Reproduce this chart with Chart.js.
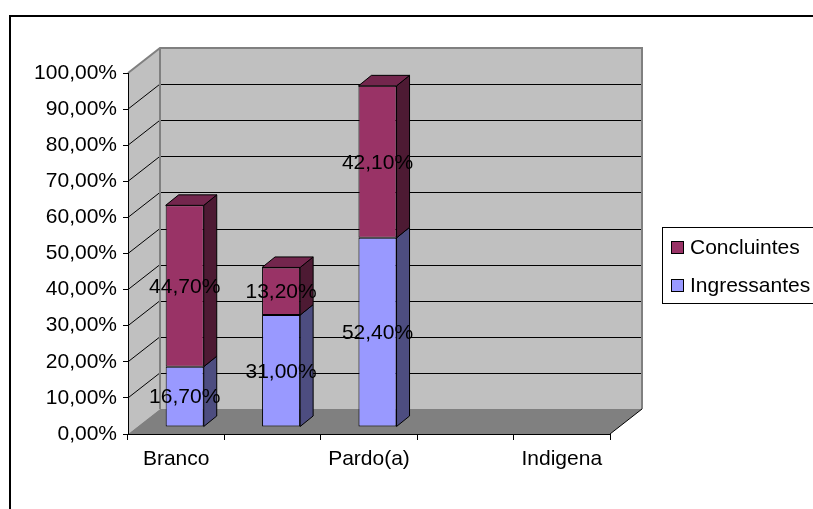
<!DOCTYPE html>
<html>
<head>
<meta charset="utf-8">
<script src="https://cdn.jsdelivr.net/npm/chart.js@4/dist/chart.umd.min.js"></script>
<style>
html,body{margin:0;padding:0;background:#fff;}
canvas{display:block;}
</style>
</head>
<body>
<canvas id="c" width="813" height="509"></canvas>
<script>
// ---- data ----
const categories = ["Branco", "", "Pardo(a)", "", "Indigena"];
const ingressantes = [16.7, 31.0, 52.4, null, null];
const concluintes = [44.7, 13.2, 42.1, null, null];
const seriesNames = ["Ingressantes", "Concluintes"];
const yTicks = [0, 10, 20, 30, 40, 50, 60, 70, 80, 90, 100];

// ---- style ----
const FONT = "'Liberation Sans', Arial, sans-serif";
const FS = 21;
const WALL_DX = 32, WALL_DY = -25;     // depth of the whole 3D box
const BAR_OX = 8.5, BAR_OY = -7;       // bar front face position inside the depth
const BAR_DX = 13, BAR_DY = -10.5;     // bar depth
const faceColors = ["#9999FF", "#993366"];
const sideColors = ["#4D4D80", "#4D1A33"];
const topColors  = ["#7373BF", "#73264D"];

const fmt = v => v.toFixed(2).replace('.', ',') + '%';

function poly(ctx, pts, fill, stroke, lw) {
  ctx.beginPath();
  ctx.moveTo(pts[0][0], pts[0][1]);
  for (let i = 1; i < pts.length; i++) ctx.lineTo(pts[i][0], pts[i][1]);
  ctx.closePath();
  if (fill) { ctx.fillStyle = fill; ctx.fill(); }
  if (stroke) { ctx.strokeStyle = stroke; ctx.lineWidth = lw || 1; ctx.stroke(); }
}

const walls = {
  id: 'walls',
  beforeDraw(chart) {
    const ctx = chart.ctx;
    const {left, right} = chart.chartArea;
    const ys = chart.scales.y;
    const y0 = ys.getPixelForValue(0), y100 = ys.getPixelForValue(100);
    const dx = WALL_DX, dy = WALL_DY;
    ctx.save();
    // outer frame
    ctx.strokeStyle = '#000'; ctx.lineWidth = 2;
    ctx.strokeRect(10, 16, 830, 530);
    // back wall
    ctx.fillStyle = '#C0C0C0';
    ctx.fillRect(left + dx, y100 + dy, right - left, y0 - y100);
    // side wall
    poly(ctx, [[left, y0], [left, y100], [left + dx, y100 + dy], [left + dx, y0 + dy]], '#C0C0C0');
    // floor
    poly(ctx, [[left, y0], [right, y0], [right + dx, y0 + dy], [left + dx, y0 + dy]], '#808080');
    // gridlines
    ctx.strokeStyle = '#000'; ctx.lineWidth = 1;
    yTicks.forEach(v => {
      if (v === 0 || v === 100) return;
      const y = Math.round(ys.getPixelForValue(v) + dy) + 0.5;
      ctx.beginPath();
      ctx.moveTo(left + dx, y); ctx.lineTo(right + dx, y);
      ctx.stroke();
      const yf = ys.getPixelForValue(v);
      ctx.beginPath();
      ctx.moveTo(left, yf); ctx.lineTo(left + dx, yf + dy);
      ctx.stroke();
    });
    // wall edges (gray)
    ctx.strokeStyle = '#808080'; ctx.lineWidth = 2;
    ctx.beginPath();
    ctx.moveTo(left, y100); ctx.lineTo(left + dx, y100 + dy);
    ctx.lineTo(right + dx, y100 + dy); ctx.lineTo(right + dx, y0 + dy);
    ctx.moveTo(left + dx, y100 + dy); ctx.lineTo(left + dx, y0 + dy);
    ctx.stroke();
    // floor right edge
    ctx.strokeStyle = '#000'; ctx.lineWidth = 1;
    ctx.beginPath();
    ctx.moveTo(right, y0); ctx.lineTo(right + dx, y0 + dy);
    ctx.stroke();
    ctx.restore();
  },
  beforeDatasetsDraw(chart) {
    chart.ctx.save();
    chart.ctx.translate(BAR_OX, BAR_OY);
  },
  afterDatasetsDraw(chart) {
    const ctx = chart.ctx;
    ctx.restore();
    ctx.save();
    const dsets = chart.data.datasets;
    dsets.forEach((ds, di) => {
      const meta = chart.getDatasetMeta(di);
      meta.data.forEach((bar, i) => {
        const v = ds.data[i];
        if (v == null) return;
        const p = bar.getProps(['x', 'y', 'base', 'width'], true);
        const xl = p.x - p.width / 2 + BAR_OX, xr = p.x + p.width / 2 + BAR_OX;
        const yt = p.y + BAR_OY, yb = p.base + BAR_OY;
        poly(ctx, [[xr, yt], [xr + BAR_DX, yt + BAR_DY], [xr + BAR_DX, yb + BAR_DY], [xr, yb]], sideColors[di], '#000', 1);
        let topmost = true;
        for (let k = di + 1; k < dsets.length; k++) if (dsets[k].data[i]) topmost = false;
        if (topmost) {
          poly(ctx, [[xl, yt], [xl + BAR_DX, yt + BAR_DY], [xr + BAR_DX, yt + BAR_DY], [xr, yt]], topColors[di], '#000', 1);
        }
      });
    });
    // data labels
    ctx.fillStyle = '#000';
    ctx.font = FS + 'px ' + FONT;
    ctx.textAlign = 'center';
    ctx.textBaseline = 'middle';
    dsets.forEach((ds, di) => {
      const meta = chart.getDatasetMeta(di);
      meta.data.forEach((bar, i) => {
        const v = ds.data[i];
        if (v == null) return;
        const p = bar.getProps(['x', 'y', 'base'], true);
        ctx.fillText(fmt(v), p.x + BAR_OX, (p.y + p.base) / 2 + BAR_OY + 1);
      });
    });
    ctx.restore();
  },
  afterDraw(chart) {
    const ctx = chart.ctx;
    ctx.save();
    // legend
    ctx.fillStyle = '#fff';
    ctx.fillRect(662.5, 227.5, 200, 76);
    ctx.strokeStyle = '#000'; ctx.lineWidth = 1;
    ctx.strokeRect(662.5, 227.5, 200, 76);
    ctx.font = FS + 'px ' + FONT;
    ctx.textAlign = 'left';
    ctx.textBaseline = 'middle';
    const order = [1, 0];
    order.forEach((di, k) => {
      const cy = 248 + k * 38;
      ctx.fillStyle = faceColors[di];
      ctx.fillRect(671.5, cy - 6.5, 12, 12);
      ctx.strokeStyle = '#000';
      ctx.strokeRect(671.5, cy - 6.5, 12, 12);
      ctx.fillStyle = '#000';
      ctx.fillText(chart.data.datasets[di].label, 690, cy);
    });
    ctx.restore();
  }
};

new Chart(document.getElementById('c'), {
  type: 'bar',
  data: {
    labels: categories,
    datasets: [
      { label: seriesNames[0], data: ingressantes, backgroundColor: faceColors[0], borderColor: '#000', borderWidth: 1, borderSkipped: false },
      { label: seriesNames[1], data: concluintes, backgroundColor: faceColors[1], borderColor: '#000', borderWidth: 1, borderSkipped: false }
    ]
  },
  options: {
    responsive: false,
    animation: false,
    events: [],
    layout: { padding: { left: 0, top: 73, right: 203, bottom: 0 } },
    datasets: { bar: { categoryPercentage: 1, barPercentage: 0.395 } },
    plugins: { legend: { display: false }, tooltip: { enabled: false } },
    scales: {
      x: {
        stacked: true,
        grid: { display: true, drawOnChartArea: false, tickLength: 6, color: '#000', offset: true },
        border: { display: true, color: '#000', width: 1 },
        ticks: { color: '#000', font: { family: FONT, size: FS }, padding: 7, autoSkip: false, maxRotation: 0 },
        afterFit(s) { s.height = 75; }
      },
      y: {
        stacked: true,
        min: 0, max: 100,
        afterBuildTicks(s) { s.ticks = yTicks.map(v => ({ value: v })); },
        grid: { display: true, drawOnChartArea: false, tickLength: 5, color: '#000' },
        border: { display: true, color: '#000', width: 1 },
        ticks: { color: '#000', font: { family: FONT, size: FS }, padding: 6, callback: v => fmt(v) },
        afterFit(s) { s.width = 128; }
      }
    }
  },
  plugins: [walls]
});
</script>
</body>
</html>
